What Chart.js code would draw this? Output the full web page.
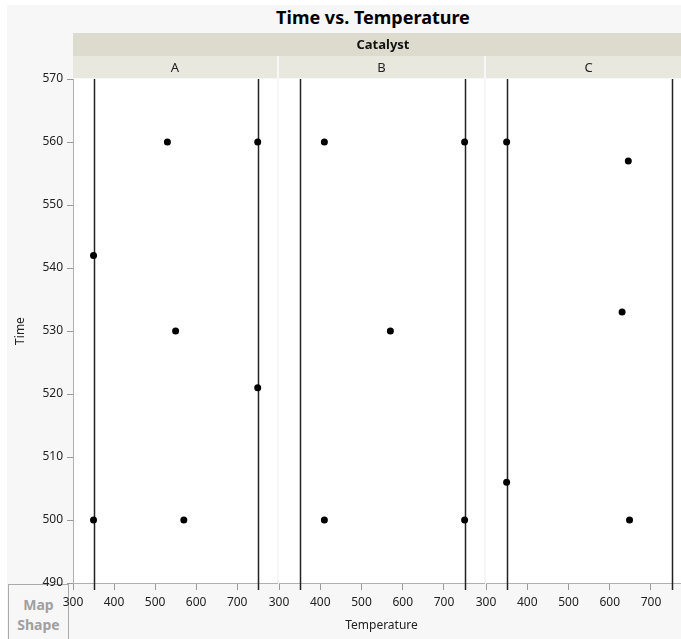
<!DOCTYPE html>
<html lang="en">
<head>
<meta charset="UTF-8">
<title>Time vs. Temperature</title>
<script src="https://cdn.jsdelivr.net/npm/chart.js@4.4.0/dist/chart.umd.min.js"></script>
<style>
  body { margin: 0; background: #fff; }
  .wrap { position: relative; width: 681px; height: 639px; overflow: hidden; background: #fff; }
  .frame { position: absolute; left: 7px; top: 5px; width: 680px; height: 640px; background: #f7f7f7; }
  .title { position: absolute; left: 73px; width: 600px; top: 5px; text-align: center;
           font: bold 18px "Noto Sans", sans-serif; color: #000; }
  .band { position: absolute; left: 73px; top: 33px; width: 620px; height: 23px; background: #dcdbcd;
          text-align: center; font: bold 13px "Noto Sans", sans-serif; line-height: 23px; color: #111; }
  .cell { position: absolute; top: 56px; height: 22px; background: #e8e8df; text-align: center;
          font: 13px "Noto Sans", sans-serif; line-height: 22px; color: #222; }
  canvas { position: absolute; top: 60px; }
  .mapshape { position: absolute; left: 8px; top: 584px; width: 61px; height: 60px; border: 1px solid #aaa;
              text-align: center; font: bold 14px "Noto Sans", sans-serif; color: #a0a0a0; line-height: 20px; padding-top: 10px; box-sizing: border-box; }
</style>
</head>
<body>
<div class="wrap">
  <div class="frame"></div>
  <div class="mapshape">Map<br>Shape</div>
  <canvas id="chartA" width="297" height="579" style="left:0px"></canvas>
  <canvas id="chartB" width="245" height="579" style="left:259px"></canvas>
  <canvas id="chartC" width="245" height="579" style="left:466px"></canvas>
  <div class="title">Time vs. Temperature</div>
  <div class="band">Catalyst</div>
  <div class="cell" style="left:73px;width:204px">A</div>
  <div class="cell" style="left:279px;width:205px">B</div>
  <div class="cell" style="left:486px;width:205px">C</div>
</div>

<script>
// data
const catalysts = ['A', 'B', 'C'];
const tempA = [530, 750, 350, 550, 750, 350, 570];
const timeA = [560, 560, 542, 530, 521, 500, 500];
const tempB = [410, 750, 570, 410, 750];
const timeB = [560, 560, 530, 500, 500];
const tempC = [350, 645, 630, 350, 648];
const timeC = [560, 557, 533, 506, 500];
const refLines = [350, 750];
const xTicks = [300, 400, 500, 600, 700];
const yTicks = [490, 500, 510, 520, 530, 540, 550, 560, 570];

const FONT = '"Noto Sans", sans-serif';
const MARGIN = 20;

// white plot area + vertical reference lines
const panelPlugin = {
  id: 'panel',
  beforeDraw(chart) {
    const a = chart.chartArea, ctx = chart.ctx;
    ctx.save();
    ctx.fillStyle = '#fff';
    ctx.fillRect(a.left, a.top, a.right - a.left, a.bottom - a.top);
    ctx.restore();
  },
  beforeDatasetsDraw(chart) {
    const a = chart.chartArea, ctx = chart.ctx;
    const xs = chart.scales.x, ys = chart.scales.y;
    ctx.save();
    ctx.strokeStyle = '#222';
    ctx.lineWidth = 1.5;
    refLines.forEach(function (v) {
      const px = Math.round(xs.getPixelForValue(v)) + 0.5;
      ctx.beginPath();
      ctx.moveTo(px, ys.getPixelForValue(ys.max));
      ctx.lineTo(px, a.bottom + 7);
      ctx.stroke();
    });
    ctx.restore();
  }
};

function makePanel(id, temps, times, opts) {
  const pts = temps.map(function (t, i) { return { x: t, y: times[i] }; });
  return new Chart(document.getElementById(id), {
    type: 'scatter',
    data: {
      datasets: [{
        data: pts,
        pointRadius: 3.5,
        pointBackgroundColor: '#000',
        pointBorderWidth: 0
      }]
    },
    plugins: [panelPlugin],
    options: {
      responsive: false,
      animation: false,
      layout: { padding: { top: 19, left: opts.padLeft, right: MARGIN, bottom: 0 } },
      plugins: { legend: { display: false }, tooltip: { enabled: false } },
      scales: {
        x: {
          type: 'linear', min: 300, max: 797,
          afterBuildTicks: function (s) { s.ticks = xTicks.map(function (v) { return { value: v }; }); },
          afterFit: function (s) { s.height = 56; s.paddingLeft = 0; s.paddingRight = 0; },
          grid: { display: true, drawOnChartArea: false, drawTicks: true, tickLength: 7, color: '#9a9a9a' },
          border: { display: true, color: '#b0b0b0' },
          ticks: { font: { family: FONT, size: 12 }, color: '#222', padding: 5, maxRotation: 0 },
          title: { display: opts.xTitle, text: 'Temperature', font: { family: FONT, size: 12 }, color: '#222', padding: { top: 0, bottom: 6 } }
        },
        y: {
          type: 'linear', min: 490, max: 570,
          display: opts.showY,
          afterBuildTicks: function (s) { s.ticks = yTicks.map(function (v) { return { value: v }; }); },
          afterFit: function (s) { s.width = opts.showY ? 73 : 0; },
          grid: { display: true, drawOnChartArea: false, drawTicks: true, tickLength: 6, color: '#9a9a9a' },
          border: { display: true, color: '#b0b0b0' },
          ticks: { font: { family: FONT, size: 12 }, color: '#222', padding: 4 },
          title: { display: true, text: 'Time', font: { family: FONT, size: 12 }, color: '#222', padding: { top: 13, bottom: 0 } }
        }
      }
    }
  });
}

makePanel('chartA', tempA, timeA, { showY: true, xTitle: false, padLeft: 0 });
makePanel('chartB', tempB, timeB, { showY: false, xTitle: true, padLeft: MARGIN });
makePanel('chartC', tempC, timeC, { showY: false, xTitle: false, padLeft: MARGIN });
</script>
</body>
</html>
